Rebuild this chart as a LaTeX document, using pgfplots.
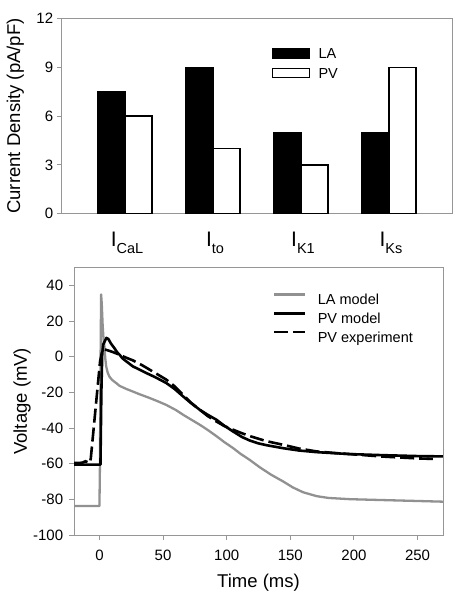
\documentclass[border=0pt]{standalone}
\usepackage{pgfplots}
\pgfplotsset{compat=1.18}
\usepackage{fontspec}
\setmainfont{Liberation Sans}
\definecolor{axgray}{RGB}{150,150,150}
\definecolor{lagray}{RGB}{145,145,145}
\newcommand{\cat}[1]{{\fontsize{21}{21}\selectfont I}\raisebox{-6.7pt}{\fontsize{14.5}{14.5}\selectfont #1}}
\begin{document}
\begin{tikzpicture}[x=1pt,y=1pt]
\path[use as bounding box] (0,0) rectangle (457,-600);
% ---------------- top panel
\begin{axis}[
  at={(61pt,-213.7pt)}, anchor=south west,
  scale only axis, width=391pt, height=195.4pt,
  xmin=-0.727, xmax=3.716, ymin=0, ymax=12,
  ybar=0pt, bar width=27pt,
  axis line style={axgray, line width=0.9pt},
  ytick={0,3,6,9,12}, ytick pos=left,
  xtick={0,1,2,3}, xtick pos=bottom,
  xticklabels={\cat{CaL},\cat{to},\cat{K1},\cat{Ks}},
  xtick style={draw=none},
  ytick style={axgray, line width=0.9pt},
  tick align=outside, major tick length=4pt,
  /pgf/number format/assume math mode=true,
  yticklabel style={font=\fontsize{15}{15}\selectfont, inner sep=0pt, xshift=-3.7pt},
  xticklabel style={inner sep=0pt, anchor=north, yshift=-14.3pt, xshift=2pt},
  ylabel={Current Density (pA/pF)},
  ylabel style={at={(axis description cs:-0.1394,0.5)}, anchor=north, inner sep=0pt, font=\fontsize{18.5}{18.5}\selectfont},
  legend cell align=left,
  legend image code/.code={\draw[#1] (0pt,-4.5pt) rectangle (36.6pt,4.5pt);},
  legend style={draw=none, fill=none, at={(axis description cs:0.5389,0.848)}, anchor=north west,
    font=\fontsize{14.5}{14.5}\selectfont, inner sep=0pt, row sep=9.5pt,
    nodes={inner sep=0pt, text height=10.4pt, text depth=0pt},
    /tikz/every odd column/.append style={column sep=8.7pt}},
]
\addplot[fill=black, draw=black, line width=1.3pt] coordinates {(0,7.5) (1,9) (2,5) (3,5)};
\addplot[fill=white, draw=black, line width=1.3pt] coordinates {(0,6) (1,4) (2,3) (3,9)};
\legend{LA,PV}
\end{axis}
% ---------------- bottom panel
\begin{axis}[
  at={(74pt,-535pt)}, anchor=south west,
  scale only axis, width=369pt, height=267.3pt,
  xmin=-20, xmax=270, ymin=-100, ymax=50,
  xtick={0,50,100,150,200,250}, ytick={-100,-80,-60,-40,-20,0,20,40},
  xtick pos=bottom, ytick pos=left,
  axis line style={axgray, line width=0.9pt},
  tick style={axgray, line width=0.9pt},
  tick align=outside, major tick length=4.5pt,
  /pgf/number format/assume math mode=true,
  ticklabel style={font=\fontsize{15}{15}\selectfont, inner sep=0pt},
  yticklabel style={xshift=-6.2pt},
  xticklabel style={yshift=-10pt},
  xlabel={Time (ms)},
  xlabel style={at={(axis description cs:0.5,-0.144)}, anchor=north, inner sep=0pt, font=\fontsize{18.5}{18.5}\selectfont},
  ylabel={Voltage (mV)},
  ylabel style={at={(axis description cs:-0.1645,0.5)}, anchor=north, inner sep=0pt, font=\fontsize{18.5}{18.5}\selectfont},
  legend cell align=left,
  legend image code/.code={\draw[#1] (0pt,5.2pt) -- (30.6pt,5.2pt);},
  legend style={draw=none, fill=none, at={(axis description cs:0.5385,0.905)}, anchor=north west,
    font=\fontsize{14.5}{14.5}\selectfont, inner sep=0pt, row sep=7.1pt,
    nodes={inner sep=0pt, text height=10.4pt, text depth=0pt},
    /tikz/every odd column/.append style={column sep=11.7pt}},
]
\addplot[lagray, line width=2.3pt, line join=round] coordinates {
(-20,-83.7) (0,-83.7) (0.4,-60) (0.9,0) (1.3,35) (1.8,30) (2.5,18) (3.2,10) (3.9,5.9)
(4.6,-1) (5.3,-5.4) (6.5,-9) (7.9,-11.2) (10,-13) (13.1,-14.7) (15.8,-16.3) (21,-18)
(26.3,-19.5) (31.5,-21) (39.4,-23.1) (46,-25) (52.5,-27) (60.4,-30) (65.7,-32.5)
(72,-35.2) (78.8,-38.1) (85,-41) (91.9,-44.5) (98,-47.8) (105,-51.2) (111,-54.5)
(118,-57.8) (126,-62) (135,-66.2) (144.5,-70) (152,-73.3) (160,-76) (170.7,-78.2)
(180,-79.2) (197,-79.9) (223,-80.4) (249.5,-80.9) (270,-81.3)};
\addplot[black, line width=2.6pt, line join=round] coordinates {
(-20,-60.5) (0.8,-60.5) (1.5,-20) (2.2,2) (3,7) (5.5,10.6) (7,10) (9,7.5) (11.6,5)
(14,2.5) (15.8,1.2) (18,-0.8) (21,-2.5) (26.3,-5.4) (31,-7) (36.8,-9.1) (44,-11.5)
(52.5,-14.7) (59,-18) (65.7,-22.2) (72,-26) (78.8,-29.7) (85,-32.5) (91.9,-35.3)
(98,-38.6) (105,-41.9) (112,-45) (118.2,-47) (125,-48.6) (131.3,-49.6) (144.5,-51.3)
(157,-52.6) (170.7,-53.5) (185,-54.1) (197,-54.6) (223,-55.2) (249.5,-55.7) (270,-55.9)};
\addplot[black, line width=2.6pt, dash pattern=on 14pt off 5pt] coordinates {
(-20,-59.5) (-16,-59.6) (-13,-59.3) (-11,-58.6) (-9,-59.2) (-7.5,-59.5) (-6.8,-57)
(0.5,-2.5) (2.4,4) (4,4.2) (10,2.8) (15.8,1.2) (21,-0.5) (26.3,-2) (33,-4.5) (39.4,-7.2)
(46,-10) (52.5,-12.8) (59,-16.5) (65.7,-21.3) (72,-25.8) (78.8,-29.7) (85,-33.2)
(91.9,-36.3) (98,-38.8) (105,-40.9) (112,-42.9) (118.2,-44.5) (131,-47.3) (144.5,-49.4)
(157,-51.5) (170.7,-53.1) (185,-54) (197,-54.6) (210,-55.3) (223,-56) (236,-56.5)
(249.5,-57) (262,-57.3)};
\legend{LA model,PV model,PV experiment}
\end{axis}
\end{tikzpicture}
\end{document}
